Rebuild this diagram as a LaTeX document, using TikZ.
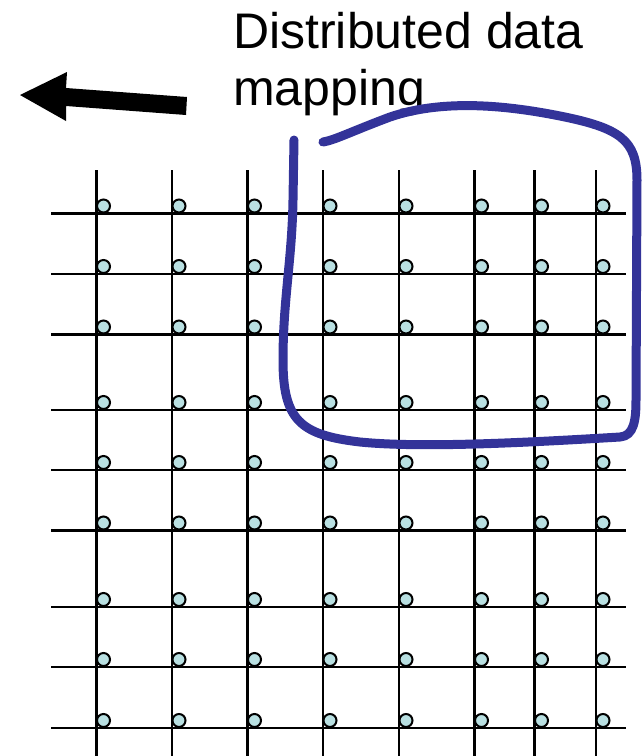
\documentclass[tikz,border=0pt]{standalone}
\usepackage{fontspec}
\setmainfont{Liberation Sans}
\definecolor{penblue}{RGB}{51,51,153}
\definecolor{dotfill}{RGB}{185,224,226}
\begin{document}
\begin{tikzpicture}[x=1pt,y=-1pt,
  gridline/.style={line width=2.8pt,black},
  dot/.style={circle,draw=black,line width=2pt,fill=dotfill,minimum size=13pt,inner sep=0pt},
  pen/.style={penblue,line width=9pt,line cap=round,line join=round},
  title/.style={font=\fontsize{50}{57}\selectfont,inner sep=0pt,anchor=base west}]
\useasboundingbox (0,0) rectangle (642,756);
% grid
\foreach \yy in {213.5,274,334.5,410,470,530.5,607,667,728}
  \draw[gridline] (51,\yy) -- (626,\yy);
\foreach \xx in {96.5,172,247.5,323,399,474.5,534.5,596}
  \draw[gridline] (\xx,170) -- (\xx,756);
\foreach \yy [count=\j] in {213.5,274,334.5,410,470,530.5,607,667,728}
  \foreach \xx [count=\i] in {96.5,172,247.5,323,399,474.5,534.5,596}
    \node[dot] (d-\i-\j) at (\xx+7,\yy-7.5) {};
% text
\node[title] (t1) at (233,48) {Distributed data};
\node[title] (t2) at (233,105) {mapping};
% arrow
\fill[black] (20,95) -- (67,72) -- (66,88) -- (187,97) -- (186,115) -- (66,106) -- (66,121) -- cycle;
% freehand blue outline
\draw[pen] (294,140) -- (293,200) .. controls (292,260) and (283,300) .. (283,360)
  .. controls (283,420) and (300,435) .. (360,442)
  .. controls (420,448) and (520,443) .. (620,437)
  .. controls (634,436) and (636,420) .. (636,400)
  -- (637,180)
  .. controls (637,140) and (620,128) .. (560,116)
  .. controls (500,104) and (440,100) .. (390,117)
  .. controls (350,132) and (335,140) .. (323,142);
\end{tikzpicture}
\end{document}
